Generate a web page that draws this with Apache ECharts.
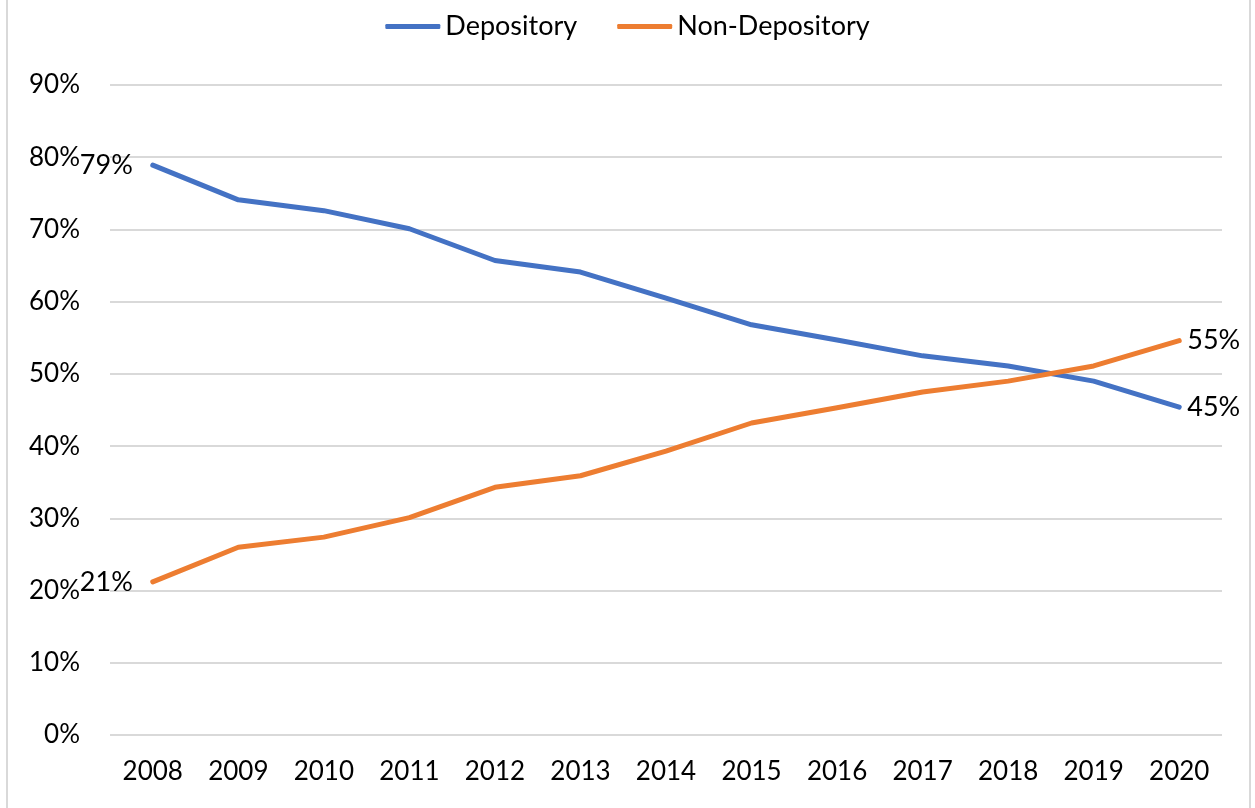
<!DOCTYPE html>
<html>
<head>
<meta charset="utf-8">
<script src="https://cdn.jsdelivr.net/npm/echarts@6/dist/echarts.min.js"></script>
<style>
  html, body { margin: 0; padding: 0; background: #fff; }
  #chart { width: 1255px; height: 808px; box-sizing: border-box; }
  .frame { position: absolute; top: 0; bottom: 0; width: 2px; background: #d9d9d9; }
</style>
</head>
<body>
<div class="frame" style="left:6px"></div>
<div class="frame" style="left:1249px"></div>
<div id="chart"></div>
<script>
var years = ['2008', '2009', '2010', '2011', '2012', '2013', '2014', '2015', '2016', '2017', '2018', '2019', '2020']
var depository = [78.9, 74.1, 72.6, 70.1, 65.7, 64.1, 60.5, 56.8, 54.7, 52.5, 51.1, 49.0, 45.4]
var nonDepository = [21.2, 26.0, 27.4, 30.1, 34.3, 35.9, 39.3, 43.2, 45.3, 47.5, 49.0, 51.1, 54.6]

var font = 'Lato, "Open Sans", sans-serif'

// label only first and last points
function endLabels (values) {
  return values.map(function (v, i) {
    if (i === 0) return { value: v, label: { show: true, position: 'left', distance: 20 } }
    if (i === values.length - 1) return { value: v, label: { show: true, position: 'right', distance: 8 } }
    return v
  })
}

var dom = echarts.init(document.getElementById('chart'))
var option = {
  animation: false,
  textStyle: { fontFamily: font },
  legend: {
    top: 8,
    left: 'center',
    itemWidth: 55,
    itemHeight: 5,
    itemGap: 40,
    icon: 'roundRect',
    textStyle: { fontSize: 27, color: '#000', fontFamily: font },
    data: ['Depository', 'Non-Depository']
  },
  grid: {
    left: 110,
    right: 33,
    top: 85,
    bottom: 73
  },
  xAxis: {
    type: 'category',
    data: years,
    boundaryGap: true,
    axisLine: { show: false },
    axisTick: { show: false },
    axisLabel: { fontSize: 26, color: '#000', margin: 24, fontFamily: font }
  },
  yAxis: {
    type: 'value',
    min: 0,
    max: 90,
    interval: 10,
    axisLine: { show: false },
    axisTick: { show: false },
    splitLine: { lineStyle: { color: '#d9d9d9', width: 2 } },
    axisLabel: {
      fontSize: 26, color: '#000', margin: 30, fontFamily: font,
      formatter: function (v) { return v + '%' }
    }
  },
  series: [
    {
      name: 'Depository',
      type: 'line',
      data: endLabels(depository),
      color: '#4472C4',
      symbol: 'circle',
      symbolSize: 0,
      showAllSymbol: true,
      lineStyle: { width: 5, cap: 'round', join: 'round' },
      label: {
        fontSize: 27, color: '#000', fontFamily: font,
        formatter: function (p) { return Math.round(p.value) + '%' }
      }
    },
    {
      name: 'Non-Depository',
      type: 'line',
      data: endLabels(nonDepository),
      color: '#ED7D31',
      symbol: 'circle',
      symbolSize: 0,
      showAllSymbol: true,
      lineStyle: { width: 5, cap: 'round', join: 'round' },
      label: {
        fontSize: 27, color: '#000', fontFamily: font,
        formatter: function (p) { return Math.round(p.value) + '%' }
      }
    }
  ]
}
dom.setOption(option)
</script>
</body>
</html>
